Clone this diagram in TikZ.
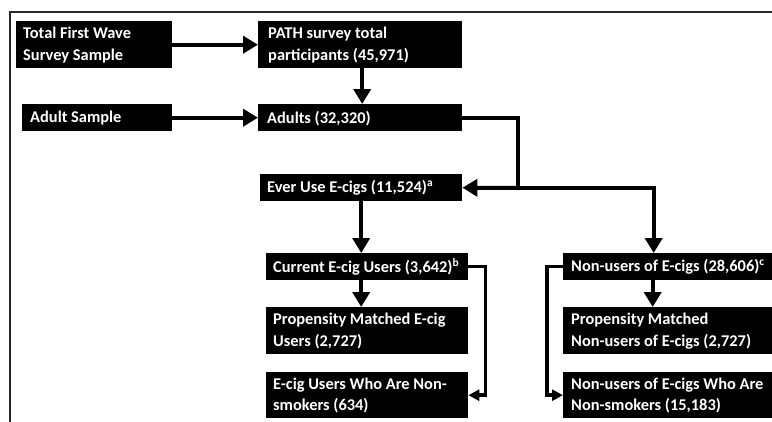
\documentclass[tikz,border=0pt]{standalone}
\usepackage{fontspec}
\setmainfont{Carlito}
\usetikzlibrary{arrows.meta,calc}
\tikzset{
  fbox/.style={fill=black, draw=none, inner sep=0pt, anchor=north west},
  ftxt/.style={text=white, font=\bfseries\fontsize{16.4}{21.5}\selectfont, align=left, inner sep=0pt, anchor=west},
  arr/.style={line width=4pt, -{Triangle[length=15pt,width=17pt]}},
  sarr/.style={line width=3.5pt, -{Triangle[length=11pt,width=11pt]}},
  conn/.style={line width=4pt},
  frame/.style={line width=1.4pt, draw=black!85}
}
\newcommand{\flowbox}[7]{%
  \node[fbox, minimum width=#4pt, minimum height=#5pt] (#1) at (#2,#3) {};
  \node[ftxt] (#1t) at ([xshift=#6pt,yshift=-0.5pt]#1.west) {#7};
}
\begin{document}
\begin{tikzpicture}[x=1pt,y=-1pt]
\useasboundingbox (0,0) rectangle (772,421);
\clip (0,0) rectangle (772,421);
\draw[frame] (10,12) rectangle (800,450);
\flowbox{b1}{16}{21}{156}{47}{7}{Total First Wave\\Survey Sample}
\flowbox{b2}{258}{21}{204}{47}{10}{PATH survey total\\participants (45,971)}
\flowbox{b3}{22}{104}{150}{27}{8}{Adult Sample}
\flowbox{b4}{258}{104}{204}{27}{9}{Adults (32,320)}
\flowbox{b5}{260}{174}{202}{27}{7}{Ever Use E-cigs (11,524)\textsuperscript{a}}
\flowbox{b6}{266}{253}{202}{27}{7}{Current E-cig Users (3,642)\textsuperscript{b}}
\flowbox{b7}{266}{307}{202}{47}{7}{Propensity Matched E-cig\\Users (2,727)}
\flowbox{b8}{266}{372}{202}{46}{7}{E-cig Users Who Are Non-\\smokers (634)}
\flowbox{b9}{563}{253}{209}{27}{8}{Non-users of E-cigs (28,606)\textsuperscript{c}}
\flowbox{b10}{563}{307}{209}{47}{8}{Propensity Matched\\Non-users of E-cigs (2,727)}
\flowbox{b11}{563}{372}{209}{46}{8}{Non-users of E-cigs Who Are\\Non-smokers (15,183)}
% connectors
\draw[arr] (b1.east) -- (b2.west);
\draw[arr] (b3.east) -- (b4.west);
\draw[arr] ([xshift=2pt]b2.south) -- ([xshift=2pt]b4.north);
\coordinate (split) at (518,188);
\draw[conn] (b4.east) -| (split);
\draw[arr] ([xshift=2pt]split) -- (b5.east);
\draw[arr] ([xshift=-2pt]split) -| ([xshift=-14pt]b9.north);
\draw[arr] (b5.south) -- (b5.south |- b6.north);
\draw[arr] (b5.south |- b6.south) -- (b5.south |- b7.north);
\draw[sarr] (b6.east) -- ++(17,0) |- (b8.east);
\draw[arr] ([xshift=-15pt]b9.south) -- ([xshift=-15pt]b10.north);
\draw[sarr] (b9.west) -- ++(-16,0) |- (b11.west);
\end{tikzpicture}
\end{document}
